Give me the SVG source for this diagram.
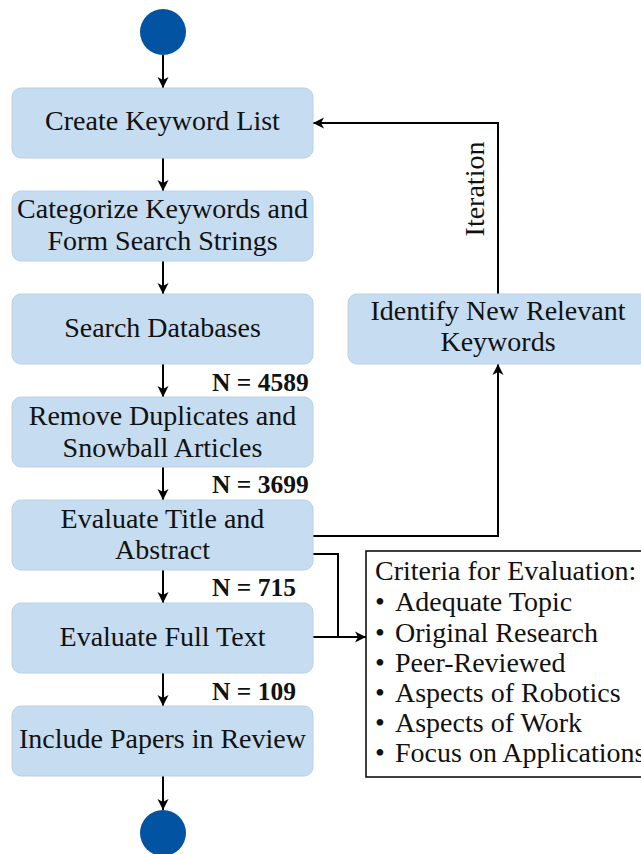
<svg xmlns="http://www.w3.org/2000/svg" width="641" height="854" viewBox="0 0 641 854">
<style>
.box{fill:#c6dcf0;stroke:#b9d0e6;stroke-width:1}
.t{font-family:"Liberation Serif","Times New Roman",serif;font-size:28px;fill:#111;text-anchor:middle}
.n{font-family:"Liberation Serif","Times New Roman",serif;font-size:25.5px;font-weight:bold;fill:#111}
.c{font-family:"Liberation Serif","Times New Roman",serif;font-size:28px;fill:#111}
.ln{fill:none;stroke:#000;stroke-width:2;marker-end:url(#ah)}
.ln2{fill:none;stroke:#000;stroke-width:2}
.dot{fill:#0254a3}
</style>
<defs>
<marker id="ah" markerUnits="userSpaceOnUse" markerWidth="14" markerHeight="12" viewBox="-1 -6 14 12" refX="11" refY="0" orient="auto">
<path d="M0,-5.5 L11,0 L0,5.5 L3,0 Z" fill="#000"/>
</marker>
</defs>
<rect width="641" height="854" fill="#fff"/>
<g id="connectors">
<line class="ln" x1="163" y1="55" x2="163" y2="88"/>
<line class="ln" x1="163" y1="158" x2="163" y2="191"/>
<line class="ln" x1="163" y1="261" x2="163" y2="294"/>
<line class="ln" x1="163" y1="364" x2="163" y2="397"/>
<line class="ln" x1="163" y1="467" x2="163" y2="500"/>
<line class="ln" x1="163" y1="570" x2="163" y2="603"/>
<line class="ln" x1="163" y1="673" x2="163" y2="706"/>
<line class="ln" x1="163" y1="776" x2="163" y2="810"/>
<polyline class="ln" points="498,294 498,123 313,123"/>
<polyline class="ln" points="313,536 498,536 498,364"/>
<polyline class="ln" points="313,554 338,554 338,637 366,637"/>
<line class="ln2" x1="313" y1="637" x2="338" y2="637"/>
<text class="t" transform="translate(484,189) rotate(-90)">Iteration</text>
</g>
<g id="start"><circle class="dot" cx="163" cy="32" r="23"/></g>
<g id="create"><rect class="box" x="12" y="88" width="301" height="70" rx="9"/><text class="t" x="162.5" y="130">Create Keyword List</text></g>
<g id="categorize"><rect class="box" x="12" y="191" width="301" height="70" rx="9"/><text class="t" x="162.5" y="218">Categorize Keywords and</text><text class="t" x="162.5" y="250">Form Search Strings</text></g>
<g id="search"><rect class="box" x="12" y="294" width="301" height="70" rx="9"/><text class="t" x="162.5" y="337">Search Databases</text></g>
<g id="remove"><rect class="box" x="12" y="397" width="301" height="70" rx="9"/><text class="t" x="162.5" y="425">Remove Duplicates and</text><text class="t" x="162.5" y="457">Snowball Articles</text></g>
<g id="evaltitle"><rect class="box" x="12" y="500" width="301" height="70" rx="9"/><text class="t" x="162.5" y="528">Evaluate Title and</text><text class="t" x="162.5" y="559">Abstract</text></g>
<g id="evalfull"><rect class="box" x="12" y="603" width="301" height="70" rx="9"/><text class="t" x="162.5" y="646">Evaluate Full Text</text></g>
<g id="include"><rect class="box" x="12" y="706" width="301" height="70" rx="9"/><text class="t" x="162.5" y="748">Include Papers in Review</text></g>
<g id="end"><circle class="dot" cx="163" cy="833" r="23"/></g>
<g id="identify"><rect class="box" x="348" y="294" width="300" height="70" rx="9"/><text class="t" x="498" y="320">Identify New Relevant</text><text class="t" x="498" y="351">Keywords</text></g>
<g id="counts">
<text class="n" x="212" y="391">N = 4589</text>
<text class="n" x="212" y="493">N = 3699</text>
<text class="n" x="212" y="596">N = 715</text>
<text class="n" x="212" y="700">N = 109</text>
</g>
<g id="criteria">
<rect x="366" y="551" width="290" height="226" fill="#fff" stroke="#000" stroke-width="1.5"/>
<text class="c" x="375" y="580">Criteria for Evaluation:</text>
<text class="c" x="375" y="611">•<tspan x="395">Adequate Topic</tspan></text>
<text class="c" x="375" y="642">•<tspan x="395">Original Research</tspan></text>
<text class="c" x="375" y="672">•<tspan x="395">Peer-Reviewed</tspan></text>
<text class="c" x="375" y="702">•<tspan x="395">Aspects of Robotics</tspan></text>
<text class="c" x="375" y="732">•<tspan x="395">Aspects of Work</tspan></text>
<text class="c" x="375" y="762">•<tspan x="395">Focus on Applications</tspan></text>
</g>
</svg>
